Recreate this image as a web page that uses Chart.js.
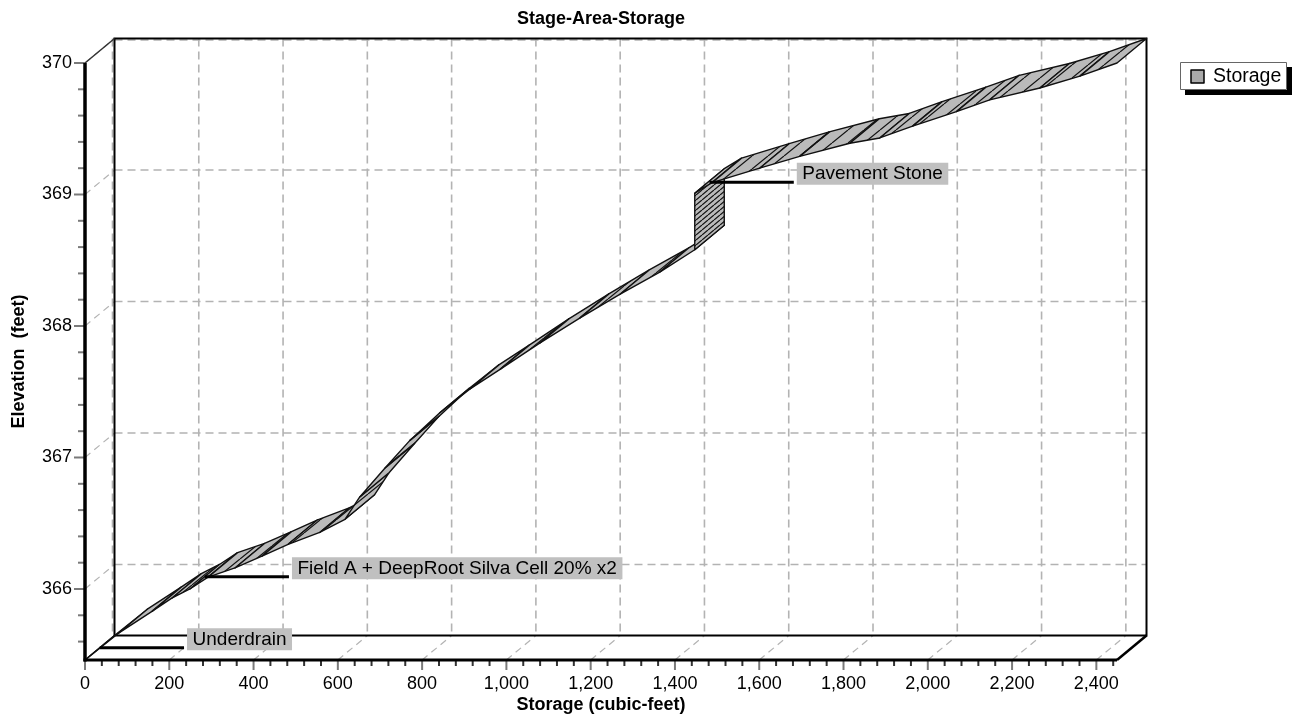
<!DOCTYPE html>
<html><head><meta charset="utf-8">
<script src="https://cdn.jsdelivr.net/npm/chart.js@4.4.1/dist/chart.umd.min.js"></script>
<style>html,body{margin:0;padding:0;background:#fff;}#wrap{width:1294px;height:719px;}</style>
</head><body><div id="wrap"><canvas id="c" width="1294" height="719"></canvas></div>
<script>
// ---- data (front edge of the 3D ribbon) ----
const storage = [0, 78, 159, 206, 249, 292, 356, 420, 482, 557, 617, 652, 712, 771, 842, 913, 985, 1079, 1174, 1269, 1364, 1447, 1447, 1488, 1601, 1696, 1815, 1886, 1964, 2068, 2147, 2266, 2361, 2449];
const elevation = [365.46, 365.66, 365.83, 365.93, 366.00, 366.09, 366.16, 366.25, 366.34, 366.43, 366.53, 366.70, 366.92, 367.13, 367.34, 367.52, 367.67, 367.87, 368.06, 368.24, 368.41, 368.58, 369.01, 369.09, 369.20, 369.29, 369.39, 369.43, 369.52, 369.63, 369.72, 369.81, 369.90, 370.00];
const xTickValues = [0, 200, 400, 600, 800, 1000, 1200, 1400, 1600, 1800, 2000, 2200, 2400];
const yTickValues = [366, 367, 368, 369, 370];
const annotationLabels = ['Underdrain', 'Field A + DeepRoot Silva Cell 20% x2', 'Pavement Stone'];
const annotationStorage = [0, 249, 1447];
const annotationElevation = [365.46, 366.0, 369.0];
const seriesName = 'Storage';
const xRange = [0, 2449];
const yRange = [365.46, 370];

// ---- style ----
const DX = 29.5, DY = -24.5;
const FONT = "'Liberation Sans', Arial, sans-serif";
Chart.defaults.font.family = FONT;
Chart.defaults.font.size = 18;
Chart.defaults.color = '#000';

function makeHatch(ctx, w, h) {
  const c = document.createElement('canvas'); c.width = w; c.height = h;
  const g = c.getContext('2d');
  g.fillStyle = '#bababa'; g.fillRect(0, 0, w, h);
  g.strokeStyle = '#111'; g.lineWidth = 1.2;
  g.beginPath();
  for (const k of [-1, 0, 1]) { g.moveTo(k * w, h); g.lineTo(k * w + w, 0); }
  g.stroke();
  return ctx.createPattern(c, 'repeat');
}

const plot3d = {
  id: 'plot3d',
  beforeDatasetsDraw(chart) {
    const {ctx, chartArea: a, scales: {x, y}} = chart;
    ctx.save();
    ctx.strokeStyle = '#b3b3b3'; ctx.lineWidth = 1.6; ctx.setLineDash([8, 5]);
    ctx.beginPath();
    xTickValues.forEach(v => {
      const px = x.getPixelForValue(v) + DX - (v === 0 ? 2 : 0);
      ctx.moveTo(px, a.top + DY); ctx.lineTo(px, a.bottom + DY);
    });
    yTickValues.forEach(v => {
      const py = y.getPixelForValue(v) + DY + (v === 370 ? 1.5 : 0);
      ctx.moveTo(a.left + DX, py); ctx.lineTo(a.right + DX, py);
    });
    ctx.stroke();
    ctx.lineWidth = 1.2; ctx.setLineDash([7, 5]);
    ctx.beginPath();
    xTickValues.forEach(v => {
      if (v === 0) return;
      const px = x.getPixelForValue(v);
      ctx.moveTo(px, a.bottom); ctx.lineTo(px + DX, a.bottom + DY);
    });
    yTickValues.forEach(v => {
      const py = y.getPixelForValue(v);
      ctx.moveTo(a.left, py); ctx.lineTo(a.left + DX, py + DY);
    });
    ctx.stroke();
    ctx.setLineDash([]);
    ctx.strokeStyle = '#000'; ctx.lineWidth = 2;
    ctx.strokeRect(a.left + DX, a.top + DY, a.right - a.left, a.bottom - a.top);
    ctx.lineWidth = 1.5; ctx.strokeStyle = '#333';
    ctx.beginPath(); ctx.moveTo(a.left, a.top); ctx.lineTo(a.left + DX, a.top + DY); ctx.stroke();
    ctx.lineWidth = 2.5; ctx.strokeStyle = '#000';
    ctx.beginPath(); ctx.moveTo(a.right, a.bottom); ctx.lineTo(a.right + DX, a.bottom + DY); ctx.stroke();
    ctx.lineWidth = 1.5;
    ctx.beginPath(); ctx.moveTo(a.left, a.bottom); ctx.lineTo(a.left + DX, a.bottom + DY); ctx.stroke();
    ctx.restore();
  },
  afterDatasetsDraw(chart) {
    const {ctx, chartArea: a, scales: {x, y}} = chart;
    const pts = chart.getDatasetMeta(0).data;
    const normal = makeHatch(ctx, 16, 13);
    const dense = makeHatch(ctx, 6, 5);
    ctx.save();
    ctx.lineJoin = 'round';
    ctx.strokeStyle = '#111'; ctx.lineWidth = 1.4;
    for (let i = 0; i < pts.length - 1; i++) {
      const p = pts[i], q = pts[i + 1];
      ctx.beginPath();
      ctx.moveTo(p.x, p.y); ctx.lineTo(q.x, q.y);
      ctx.lineTo(q.x + DX, q.y + DY); ctx.lineTo(p.x + DX, p.y + DY);
      ctx.closePath();
      ctx.fillStyle = Math.abs(q.x - p.x) < 1 ? dense : normal;
      ctx.fill(); ctx.stroke();
    }
    ctx.font = '19px ' + FONT; ctx.textBaseline = 'middle';
    annotationLabels.forEach((lab, i) => {
      const x0 = x.getPixelForValue(annotationStorage[i]) + DX / 2;
      const x1 = x.getPixelForValue(annotationStorage[i] + 200) + DX / 2;
      const yy = y.getPixelForValue(annotationElevation[i]) + DY / 2;
      ctx.strokeStyle = '#000'; ctx.lineWidth = 3;
      ctx.beginPath(); ctx.moveTo(x0, yy); ctx.lineTo(x1, yy); ctx.stroke();
      const tw = ctx.measureText(lab).width;
      ctx.fillStyle = '#c0c0c0';
      ctx.fillRect(x1 + 3, yy - 19.5, tw + 11, 22);
      ctx.fillStyle = '#000';
      ctx.fillText(lab, x1 + 8.5, yy - 8);
    });
    ctx.lineWidth = 2;
    yTickValues.forEach(v => {
      const py = y.getPixelForValue(v);
      ctx.strokeStyle = '#7a7a7a';
      ctx.beginPath(); ctx.moveTo(a.left - 11, py); ctx.lineTo(a.left, py); ctx.stroke();
      for (let k = 1; k < 5; k++) {
        const mv = v - k * 0.2;
        if (mv < y.min) break;
        const mp = y.getPixelForValue(mv);
        ctx.beginPath(); ctx.moveTo(a.left - 7, mp); ctx.lineTo(a.left, mp); ctx.stroke();
      }
    });
    xTickValues.forEach(v => {
      const px = x.getPixelForValue(v);
      ctx.strokeStyle = '#7a7a7a';
      ctx.beginPath(); ctx.moveTo(px, a.bottom); ctx.lineTo(px, a.bottom + 10); ctx.stroke();
      ctx.strokeStyle = '#333';
      for (let k = 1; k < 5; k++) {
        const mv = v + k * 40;
        if (mv > x.max) break;
        const mp = x.getPixelForValue(mv);
        ctx.beginPath(); ctx.moveTo(mp, a.bottom); ctx.lineTo(mp, a.bottom + 6); ctx.stroke();
      }
    });
    ctx.strokeStyle = '#000';
    ctx.lineWidth = 3.5;
    ctx.beginPath(); ctx.moveTo(a.left, a.top); ctx.lineTo(a.left, a.bottom + 1.5); ctx.stroke();
    ctx.lineWidth = 3;
    ctx.beginPath(); ctx.moveTo(a.left - 1.5, a.bottom); ctx.lineTo(a.right, a.bottom); ctx.stroke();
    // legend
    const lx = a.right + 63, ly = a.top - 1, lw = 107, lh = 28;
    ctx.fillStyle = '#000'; ctx.fillRect(lx + 5, ly + 5, lw, lh);
    ctx.fillStyle = '#fff'; ctx.fillRect(lx, ly, lw, lh);
    ctx.strokeStyle = '#666'; ctx.lineWidth = 1; ctx.strokeRect(lx + 0.5, ly + 0.5, lw - 1, lh - 1);
    ctx.fillStyle = '#a9a9a9'; ctx.fillRect(lx + 11, ly + 8, 13, 13);
    ctx.strokeStyle = '#000'; ctx.lineWidth = 1.5; ctx.strokeRect(lx + 11, ly + 8, 13, 13);
    ctx.fillStyle = '#000'; ctx.font = '19.5px ' + FONT; ctx.textBaseline = 'middle';
    ctx.fillText(chart.data.datasets[0].label, lx + 33, ly + 15);
    ctx.restore();
  }
};

new Chart(document.getElementById('c'), {
  type: 'line',
  data: {
    datasets: [{
      label: seriesName,
      data: storage.map((s, i) => ({x: s, y: elevation[i]})),
      showLine: false, pointRadius: 0, borderWidth: 0
    }]
  },
  options: {
    responsive: false, animation: false, devicePixelRatio: 1,
    layout: {padding: {left: 0, top: 0, right: 177, bottom: 0}},
    plugins: {
      legend: {display: false},
      tooltip: {enabled: false},
      title: {display: true, text: 'Stage-Area-Storage', fullSize: false,
        font: {size: 18, weight: 'bold'}, color: '#000', padding: {top: 8, bottom: 33.4}}
    },
    scales: {
      x: {
        type: 'linear', min: xRange[0], max: xRange[1],
        afterBuildTicks: s => { s.ticks = xTickValues.map(v => ({value: v})); },
        afterFit: s => { s.height = 59; },
        grid: {display: false, drawTicks: false}, border: {display: false},
        ticks: {padding: 13, autoSkip: false, maxRotation: 0, color: '#000', font: {size: 18}},
        title: {display: true, text: 'Storage (cubic-feet)', font: {size: 18, weight: 'bold'}, color: '#000', padding: {top: 0, bottom: 3}}
      },
      y: {
        type: 'linear', min: yRange[0], max: yRange[1],
        afterBuildTicks: s => { s.ticks = yTickValues.map(v => ({value: v})); },
        afterFit: s => { s.width = 85; },
        grid: {display: false, drawTicks: false}, border: {display: false},
        ticks: {padding: 13, color: '#000', font: {size: 18}},
        title: {display: true, text: 'Elevation  (feet)', font: {size: 18, weight: 'bold'}, color: '#000', padding: {top: 8}}
      }
    }
  },
  plugins: [plot3d]
});
</script></body></html>
